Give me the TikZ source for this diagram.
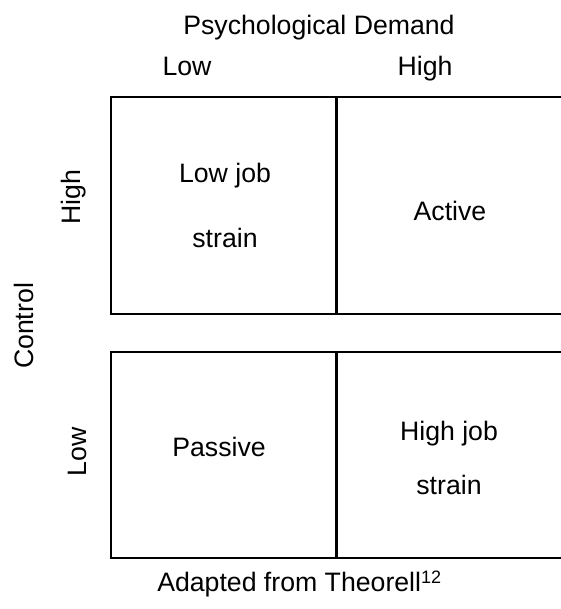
\documentclass[tikz,border=0pt]{standalone}
\usepackage{fontspec}
\setmainfont{Liberation Sans}
\begin{document}
\begin{tikzpicture}[x=0.75pt,y=0.75pt,yscale=-1,xscale=1,
    lbl/.style={inner sep=0pt, font=\fontsize{20}{24}\selectfont},
    cell/.style={line width=1.1pt}]
    \useasboundingbox (0,0) rectangle (560,609);
    %Shape: Rectangle [low demand, high control]
    \draw [cell] (111,97) rectangle (336,314);
    %Shape: Rectangle [high demand, high control]
    \draw [cell] (337.5,97) rectangle (566,314);
    %Shape: Rectangle [low demand, low control]
    \draw [cell] (111,352) rectangle (336,558);
    %Shape: Rectangle [high demand, low control]
    \draw [cell] (337.5,352) rectangle (566,558);

    % Text Node
    \node [lbl, anchor=base] (demand) at (319,35) {Psychological Demand};
    % Text Node
    \node [lbl, anchor=base] (demlow) at (187,76) {Low};
    % Text Node
    \node [lbl, anchor=base] (demhigh) at (425,76) {High};
    % Text Node
    \node [lbl, anchor=base, rotate=90] (ctrlhigh) at (80,197) {High};
    % Text Node
    \node [lbl, anchor=base, rotate=90] (control) at (33,326) {Control};
    % Text Node
    \node [lbl, anchor=base, rotate=90] (ctrllow) at (86,452) {Low};
    % Text Node
    \node [lbl, align=center] (lowstrain) at (225,205) {Low job\\[24.75pt]strain};
    % Text Node
    \node [lbl, anchor=base] (active) at (450,221) {Active};
    % Text Node
    \node [lbl, anchor=base] (passive) at (219,456) {Passive};
    % Text Node
    \node [lbl, align=center] (highstrain) at (449,458) {High job\\[16.5pt]strain};
    % Text Node
    \node [lbl, anchor=base west] (source) at (157,591) {Adapted from Theorell\raisebox{6pt}{\fontsize{13.5}{16}\selectfont 12}};
\end{tikzpicture}
\end{document}
